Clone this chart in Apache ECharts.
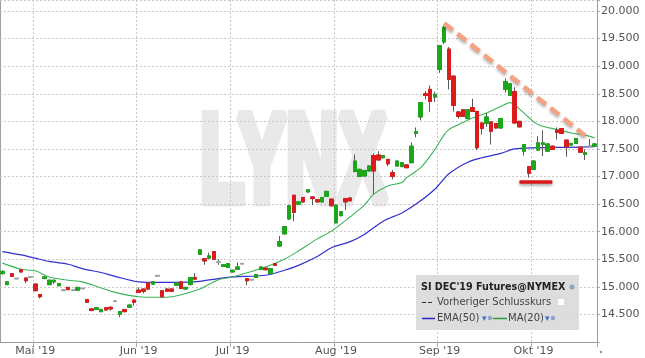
<!DOCTYPE html>
<html><head><meta charset="utf-8">
<script src="https://cdn.jsdelivr.net/npm/echarts@6/dist/echarts.min.js"></script>
<style>html,body{margin:0;padding:0;background:#fff}#c{width:645px;height:358px}</style>
</head><body><div id="c"></div>
<script>
// Trading days (2019, MM-DD)
const dates = ['04-22','04-23','04-24','04-25','04-26','04-29','04-30',
'05-01','05-02','05-03','05-06','05-07','05-08','05-09','05-10','05-13','05-14','05-15','05-16','05-17','05-20','05-21','05-22','05-23','05-24','05-28','05-29','05-30','05-31',
'06-03','06-04','06-05','06-06','06-07','06-10','06-11','06-12','06-13','06-14','06-17','06-18','06-19','06-20','06-21','06-24','06-25','06-26','06-27','06-28',
'07-01','07-02','07-03','07-05','07-08','07-09','07-10','07-11','07-12','07-15','07-16','07-17','07-18','07-19','07-22','07-23','07-24','07-25','07-26','07-29','07-30','07-31',
'08-01','08-02','08-05','08-06','08-07','08-08','08-09','08-12','08-13','08-14','08-15','08-16','08-19','08-20','08-21','08-22','08-23','08-26','08-27','08-28','08-29','08-30',
'09-03','09-04','09-05','09-06','09-09','09-10','09-11','09-12','09-13','09-16','09-17','09-18','09-19','09-20','09-23','09-24','09-25','09-26','09-27','09-30',
'10-01','10-02','10-03','10-04','10-07','10-08','10-09','10-10','10-11','10-14','10-15','10-16','10-17','10-18'];

const open = [15.24,15.04,15.24,15.15,15.31,15.16,15.18,15.05,14.86,15.15,15.04,15.09,15.02,14.94,14.99,14.94,14.94,14.97,14.77,14.60,
14.59,14.55,14.62,14.63,14.74,14.50,14.59,14.63,14.76,14.94,14.96,15.07,15.05,15.20,14.93,14.96,14.96,15.03,15.09,14.96,
15.04,15.17,15.59,15.51,15.52,15.64,15.45,15.37,15.35,15.27,15.32,15.42,15.15,15.13,15.17,15.32,15.34,15.24,15.42,15.74,
15.96,16.23,16.66,16.50,16.62,16.72,16.63,16.58,16.54,16.64,16.59,16.16,16.29,16.60,16.61,17.09,17.00,17.01,17.10,17.38,
17.39,17.34,17.31,17.07,17.19,17.18,17.21,17.25,17.78,18.08,18.50,18.58,18.44,18.94,19.44,19.31,18.82,18.17,18.21,18.05,
18.25,18.18,17.97,17.96,17.99,17.96,17.88,18.58,18.47,18.54,18.00,17.46,17.18,17.13,17.48,17.58,17.46,17.55,17.84,17.87,
17.66,17.57,17.60,17.53,17.40,17.55,17.55];
const close = [15.28,15.09,15.19,15.15,15.27,15.11,15.18,14.93,14.82,15.18,15.12,15.12,15.06,14.94,14.95,14.94,14.99,14.97,14.72,14.57,
14.62,14.59,14.58,14.60,14.74,14.55,14.55,14.67,14.72,14.90,14.92,14.96,15.09,15.20,14.82,14.92,14.92,15.07,14.97,14.99,
15.17,15.14,15.67,15.47,15.56,15.50,15.45,15.40,15.42,15.30,15.36,15.42,15.11,15.13,15.22,15.36,15.31,15.33,15.39,15.82,
16.09,16.47,16.35,16.54,16.54,16.76,16.60,16.54,16.62,16.73,16.47,16.48,16.36,16.54,16.56,17.28,17.13,17.11,17.19,17.10,
17.30,17.38,17.23,17.00,17.28,17.25,17.16,17.55,17.81,18.34,18.47,18.36,18.49,19.37,19.70,18.76,18.29,18.09,18.09,18.21,
18.18,17.52,17.87,18.08,17.82,17.88,18.05,18.72,18.68,17.97,17.90,17.58,17.06,17.28,17.61,17.61,17.59,17.49,17.80,17.78,
17.54,17.60,17.69,17.44,17.43,17.55,17.59];
const low = [15.22,15.03,15.18,15.14,15.26,15.07,15.17,14.92,14.79,15.14,15.03,15.05,15.01,14.93,14.94,14.93,14.93,14.96,14.71,14.56,
14.58,14.54,14.57,14.57,14.73,14.45,14.54,14.62,14.66,14.89,14.88,14.95,15.04,15.19,14.81,14.91,14.91,15.02,14.96,14.95,
15.03,15.13,15.58,15.40,15.50,15.49,15.40,15.36,15.34,15.26,15.31,15.41,15.03,15.12,15.16,15.31,15.30,15.23,15.38,15.73,
15.95,16.22,16.19,16.49,16.53,16.71,16.48,16.53,16.53,16.63,16.46,16.15,16.28,16.39,16.55,17.08,16.99,17.00,17.09,16.68,
17.29,17.33,17.19,16.95,17.18,17.17,17.15,17.24,17.71,18.02,18.40,18.17,18.35,18.88,19.40,18.58,18.18,18.05,18.08,18.04,
18.17,17.48,17.76,17.90,17.58,17.87,17.87,18.52,18.46,17.96,17.89,17.38,16.98,17.12,17.47,17.37,17.45,17.48,17.67,17.77,
17.36,17.56,17.59,17.43,17.30,17.54,17.54];
const high = [15.30,15.10,15.25,15.16,15.32,15.17,15.19,15.06,14.87,15.19,15.13,15.13,15.07,14.95,15.00,14.95,15.00,14.98,14.78,14.61,
14.63,14.60,14.63,14.64,14.75,14.56,14.60,14.68,14.77,14.99,14.97,15.08,15.10,15.21,14.94,14.97,14.97,15.08,15.10,15.00,
15.18,15.25,15.68,15.52,15.62,15.65,15.50,15.41,15.43,15.31,15.44,15.43,15.16,15.14,15.23,15.37,15.35,15.34,15.43,15.92,
16.10,16.48,16.67,16.55,16.63,16.77,16.64,16.59,16.63,16.74,16.60,16.49,16.37,16.61,16.62,17.40,17.14,17.12,17.20,17.42,
17.46,17.39,17.32,17.12,17.29,17.26,17.22,17.62,17.89,18.35,18.55,18.65,18.54,19.38,19.73,19.35,18.83,18.18,18.22,18.22,
18.41,18.19,17.98,18.15,18.00,17.97,18.06,18.78,18.69,18.62,18.01,17.59,17.19,17.29,17.73,17.84,17.60,17.56,17.89,17.88,
17.67,17.61,17.70,17.54,17.49,17.68,17.60];

// Indicator lines (category index, value)
const ma20Idx = [0,4,7,10,14,17,21,24,29,33,36,39,42,46,49,56,60,63,67,70,74,77,79,82,85,86,89,92,94,95,97,100,103,106,108,109,112,114,118,121,124,126];
const ma20Val = [15.43,15.32,15.29,15.18,15.12,15.09,14.98,14.90,14.82,14.81,14.82,14.88,14.96,15.13,15.18,15.36,15.50,15.65,15.87,16.01,16.27,16.48,16.68,16.83,16.89,16.98,17.16,17.49,17.76,17.85,17.94,18.06,18.15,18.27,18.34,18.30,18.07,17.94,17.85,17.79,17.75,17.70];
const ema50Idx = [0,4,7,10,14,17,21,24,29,33,38,42,46,49,56,60,63,67,70,74,77,81,85,88,92,95,99,102,106,109,113,120,126];
const ema50Val = [15.64,15.58,15.52,15.46,15.41,15.33,15.26,15.19,15.09,15.08,15.08,15.10,15.15,15.18,15.21,15.30,15.39,15.55,15.71,15.82,15.95,16.19,16.34,16.50,16.77,17.05,17.26,17.34,17.42,17.50,17.52,17.53,17.54];

// Annotations (category index, price)
const trendStart = [94, 19.78], trendEnd = [124, 17.74];
const supportStart = [110, 16.90], supportEnd = [117, 16.90];
const lastPrice = 17.59;

const yMin = 14.0, yMax = 20.2, yStep = 0.5;
const monthNames = {'04':'Apr','05':'Mai','06':'Jun','07':'Jul','08':'Aug','09':'Sep','10':'Okt'};

const isMonthStart = i => i > 0 && dates[i].slice(0,2) !== dates[i-1].slice(0,2);
const upC = '#1aa81a', dnC = '#dc1c1c', flatC = '#a6a6a6';
const full = dates.map((d,i) => [open[i], close[i], low[i], high[i]]);
const bodies = dates.map((d,i) => {
  const o = open[i], c = close[i];
  const col = c > o ? upC : (c < o ? dnC : flatC);
  return {value:[o, c, Math.min(o,c), Math.max(o,c)],
    itemStyle:{color:col,color0:col,borderColor:col,borderColor0:col,borderColorDoji:col,borderWidth: c===o?2:1}};
});
const F = '"DejaVu Sans", Verdana, sans-serif';

const chart = echarts.init(document.getElementById('c'));
chart.setOption({
  animation:false,
  backgroundColor:'#fff',
  grid:{left:0,right:48,top:0,bottom:16,outerBoundsMode:'none',containLabel:false},
  xAxis:{type:'category',data:dates,boundaryGap:true,
    axisLine:{lineStyle:{color:'#9a9a9a'}},
    axisTick:{show:true,interval:(i)=>isMonthStart(i),length:5,lineStyle:{color:'#aaa'}},
    axisLabel:{interval:(i)=>isMonthStart(i),formatter:(v)=>monthNames[v.slice(0,2)]+" '19",color:'#555',fontSize:11,fontFamily:F,margin:4},
    splitLine:{show:true,interval:(i)=>isMonthStart(i),lineStyle:{color:'#c8c8c8',type:[2,2]}}},
  yAxis:{type:'value',position:'right',min:yMin,max:yMax,interval:yStep,scale:true,
    axisLine:{show:true,lineStyle:{color:'#9a9a9a'}},
    axisTick:{show:true,length:3,lineStyle:{color:'#aaa'}},
    axisLabel:{color:'#555',fontSize:11,fontFamily:F,margin:4,
      formatter:(v)=>(v<14.25||Math.abs(v*2-Math.round(v*2))>1e-6)?'':v.toFixed(3)},
    splitLine:{show:true,lineStyle:{color:'#c8c8c8',type:[2,2]}}},
  graphic:[
    {type:'text',x:200,y:167,scaleX:0.585,z:-10,silent:true,
      style:{text:'LYNX',font:'bold 124px "Liberation Sans", Arial, sans-serif',fill:'#e9e9e9',stroke:'#e9e9e9',lineWidth:11,lineJoin:'miter',verticalAlign:'middle'}},
    {type:'line',shape:{x1:0.5,y1:0,x2:0.5,y2:342},style:{stroke:'#a0a0a0',lineWidth:1}},
    {type:'rect',z:50,shape:{x:416,y:275,width:163,height:55},style:{fill:'rgba(218,218,218,0.92)'}},
    {type:'text',z:51,x:421,y:287,style:{text:"SI DEC'19 Futures@NYMEX",font:'bold 9.6px '+F,fill:'#222',verticalAlign:'middle'}},
    {type:'circle',z:51,shape:{cx:572,cy:287,r:2.5},style:{fill:'#8fa3c3'}},
    {type:'line',z:51,shape:{x1:422,y1:302.5,x2:434,y2:302.5},style:{stroke:'#333',lineWidth:1.2,lineDash:[4,2]}},
    {type:'text',z:51,x:437,y:302,style:{text:'Vorheriger Schlusskurs',font:'10px '+F,fill:'#444',verticalAlign:'middle'}},
    {type:'rect',z:51,shape:{x:558,y:299,width:6,height:6},style:{fill:'#fff'}},
    {type:'line',z:51,shape:{x1:422,y1:318.5,x2:435,y2:318.5},style:{stroke:'#2424c8',lineWidth:1.5}},
    {type:'text',z:51,x:437,y:318,style:{text:'EMA(50)',font:'10px '+F,fill:'#444',verticalAlign:'middle'}},
    {type:'text',z:51,x:482,y:319,style:{text:'▾',font:'9px '+F,fill:'#3b6fd6',verticalAlign:'middle'}},
    {type:'circle',z:51,shape:{cx:490,cy:318,r:2.2},style:{fill:'#8fa3c3'}},
    {type:'line',z:51,shape:{x1:493,y1:318.5,x2:507,y2:318.5},style:{stroke:'#2a9a3a',lineWidth:1.5}},
    {type:'text',z:51,x:508,y:318,style:{text:'MA(20)',font:'10px '+F,fill:'#444',verticalAlign:'middle'}},
    {type:'text',z:51,x:545,y:319,style:{text:'▾',font:'9px '+F,fill:'#3b6fd6',verticalAlign:'middle'}},
    {type:'circle',z:51,shape:{cx:553,cy:318,r:2.2},style:{fill:'#8fa3c3'}},
    {type:'circle',shape:{cx:601,cy:352,r:1.3},style:{fill:'#999'}}
  ],
  series:[
    {type:'line',name:'EMA(50)',data:ema50Idx.map((x,i)=>[x,ema50Val[i]]),smooth:0.3,showSymbol:false,z:1,
      lineStyle:{color:'#3030d0',width:1.2}},
    {type:'line',name:'MA(20)',data:ma20Idx.map((x,i)=>[x,ma20Val[i]]),smooth:0.3,showSymbol:false,z:1,
      lineStyle:{color:'#3cb45a',width:1.1}},
    {type:'candlestick',name:'wicks',data:full,barWidth:4,z:3,
      itemStyle:{color:'#5a5a5a',color0:'#5a5a5a',borderColor:'#5a5a5a',borderColor0:'#5a5a5a',borderColorDoji:'#5a5a5a',borderWidth:1}},
    {type:'candlestick',name:'SI',data:bodies,barWidth:4,z:4,
      markLine:{silent:true,symbol:['none','none'],animation:false,label:{show:false},
        data:[
          [{coord:trendStart,lineStyle:{color:'#f5a282',width:4.5,type:[11,6],cap:'butt',shadowColor:'rgba(0,0,0,0.3)',shadowBlur:3,shadowOffsetY:2}},{coord:trendEnd}],
          [{coord:supportStart,lineStyle:{color:'#d81818',width:3.5,type:'solid',shadowColor:'rgba(0,0,0,0.35)',shadowBlur:3,shadowOffsetY:2}},{coord:supportEnd}],
          {yAxis:lastPrice,lineStyle:{opacity:0},
            label:{show:true,position:'end',formatter:lastPrice.toFixed(3),backgroundColor:'#c9c93a',color:'#333',
              fontSize:11,fontFamily:F,padding:[2,3,1,3],distance:3}}
        ]}}
  ]
});
</script></body></html>
